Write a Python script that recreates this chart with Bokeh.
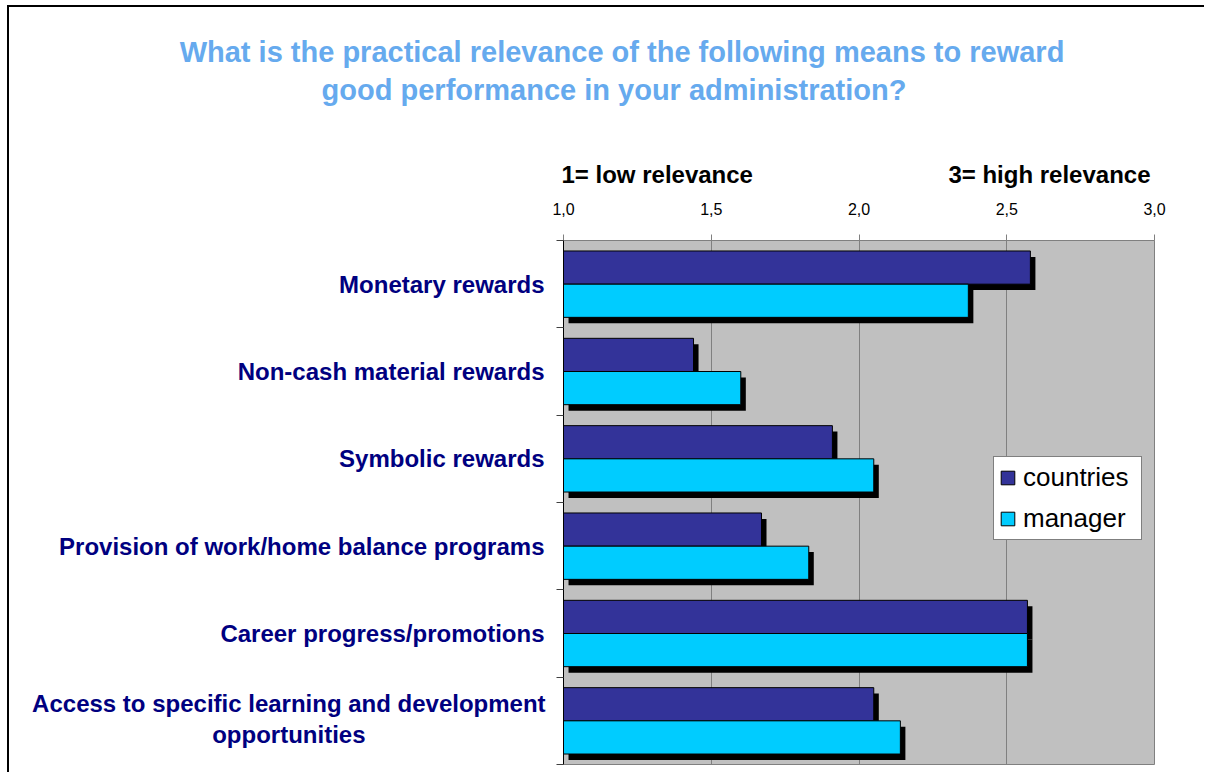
from bokeh.plotting import figure
from bokeh.models import (FactorRange, FixedTicker, Label, Legend, LegendItem,
                          ColumnDataSource, CustomJSTickFormatter, LinearAxis)
from bokeh.transform import dodge
from bokeh.embed import file_html
from bokeh.resources import INLINE

# ---------------- data ----------------
categories = [
    "Monetary rewards",
    "Non-cash material rewards",
    "Symbolic rewards",
    "Provision of work/home balance programs",
    "Career progress/promotions",
    "Access to specific learning and development\nopportunities",
]
countries = [2.58, 1.44, 1.91, 1.67, 2.57, 2.05]
manager = [2.37, 1.60, 2.05, 1.83, 2.57, 2.14]
series_names = ["countries", "manager"]
tick_values = [1.0, 1.5, 2.0, 2.5, 3.0]
tick_labels = ["1,0", "1,5", "2,0", "2,5", "3,0"]
title_lines = ["What is the practical relevance of the following means to reward",
               "good performance in your administration?"]
scale_notes = ["1= low relevance", "3= high relevance"]

# ---------------- styling ----------------
FONT = "Liberation Sans"
C_COUNTRIES = "#333399"
C_MANAGER = "#00CCFF"
BAR_H = 0.38
OFF = 0.19
SH_DX = 0.017
SH_DY = 0.068

W, H = 1197, 767
p = figure(width=W, height=H, title=None,
           y_range=FactorRange(factors=categories[::-1]),
           x_range=(1, 3), x_axis_location="above",
           output_backend="svg", toolbar_location=None,
           min_border_left=554, min_border_right=52,
           min_border_top=233, min_border_bottom=10,
           background_fill_color="#C0C0C0", border_fill_color="white",
           outline_line_color="#808080")
p.styles = {"margin-top": "5px", "margin-left": "7px",
            "border-top": "2px solid black", "border-left": "2px solid black"}

src = ColumnDataSource(dict(
    cat=categories,
    countries=countries,
    manager=manager,
    countries_sh=[v + SH_DX for v in countries],
    manager_sh=[v + SH_DX for v in manager],
))

# countries shadow + bar
p.hbar(y=dodge("cat", OFF - SH_DY, range=p.y_range), left=1 + SH_DX,
       right="countries_sh", height=BAR_H, fill_color="black", line_color=None,
       source=src)
rc = p.hbar(y=dodge("cat", OFF, range=p.y_range), left=1, right="countries",
            height=BAR_H, fill_color=C_COUNTRIES, line_color="black",
            line_width=1, source=src)
# manager shadow + bar
p.hbar(y=dodge("cat", -OFF - SH_DY, range=p.y_range), left=1 + SH_DX,
       right="manager_sh", height=BAR_H, fill_color="black", line_color=None,
       source=src)
rm = p.hbar(y=dodge("cat", -OFF, range=p.y_range), left=1, right="manager",
            height=BAR_H, fill_color=C_MANAGER, line_color="black",
            line_width=1, source=src)

# ---------------- axes ----------------
xa = p.xaxis[0]
xa.ticker = FixedTicker(ticks=tick_values)
xa.major_label_overrides = dict(zip(tick_values, tick_labels))
xa.major_label_text_font = FONT
xa.major_label_text_font_size = "16px"
xa.major_label_text_color = "black"
xa.axis_line_color = "#808080"
xa.major_tick_line_color = "#808080"
xa.major_tick_out = 6
xa.major_tick_in = 0
xa.minor_tick_line_color = None
xa.major_label_standoff = 20

# category-label axis (outer)
ya = p.yaxis[0]
ya.formatter = CustomJSTickFormatter(args=dict(hidden=categories[-1]),
                                     code="return tick == hidden ? '' : tick;")
ya.major_label_text_font = FONT
ya.major_label_text_font_style = "bold"
ya.major_label_text_font_size = "24px"
ya.major_label_text_color = "#000080"
ya.major_tick_line_color = None
ya.major_tick_out = 0
ya.major_tick_in = 0
ya.axis_line_color = None
ya.major_label_standoff = 12

# boundary-tick axis (inner): ticks between category bands
band_edges = list(range(len(categories) + 1))
yb = LinearAxis(ticker=FixedTicker(ticks=band_edges),
                major_label_text_font_size="0px", major_label_text_alpha=0,
                major_label_standoff=0, major_tick_out=7, major_tick_in=0,
                major_tick_line_color="#404040", minor_tick_line_color=None,
                axis_line_color="black")
p.left = [yb, ya]

p.xgrid[0].ticker = FixedTicker(ticks=tick_values)
p.xgrid.grid_line_color = "#808080"
p.ygrid.grid_line_color = None

# ---------------- legend ----------------
legend = Legend(items=[LegendItem(label=series_names[0], renderers=[rc]),
                       LegendItem(label=series_names[1], renderers=[rm])],
                location=(430, 224),
                border_line_color="black", border_line_width=1,
                background_fill_color="white", background_fill_alpha=1,
                label_text_font=FONT, label_text_font_size="26px",
                label_text_color="black", label_width=113,
                glyph_width=17, glyph_height=17, label_standoff=7,
                padding=5, spacing=10, margin=0)
p.add_layout(legend)

# ---------------- texts (side-panel labels, positioned in data space) ----
def add_label(**kw):
    base = dict(text_baseline="middle", text_font=FONT, text_font_style="bold")
    base.update(kw)
    p.add_layout(Label(**base), "above")

add_label(x=1.198, y=8.164, text=title_lines[0], text_align="center",
          text_font_size="29px", text_color="#66AAEE")
add_label(x=1.171, y=7.718, text=title_lines[1], text_align="center",
          text_font_size="29px", text_color="#66AAEE")
add_label(x=1, x_offset=-2, y=6.756, text=scale_notes[0], text_align="left",
          text_font_size="24px", text_color="black")
add_label(x=3, x_offset=-4, y=6.756, text=scale_notes[1], text_align="right",
          text_font_size="24px", text_color="black")
last_y = 0.5  # centre of the bottom category band
add_label(x=0.0706, y=last_y, y_offset=2, text=categories[-1],
          text_align="center", text_font_size="24px", text_color="#000080",
          text_line_height=1.15)

open("out.html", "w").write(file_html(p, INLINE))
